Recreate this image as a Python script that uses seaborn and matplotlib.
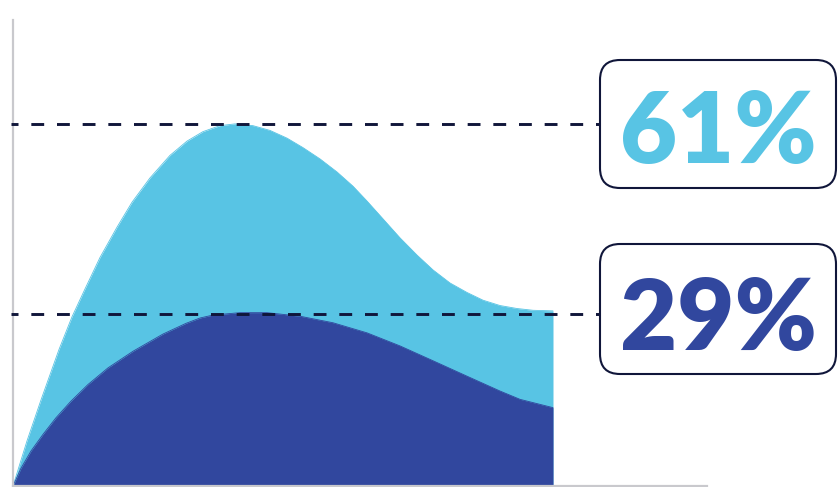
import matplotlib
matplotlib.use("Agg")
import matplotlib.pyplot as plt
import seaborn as sns
import pandas as pd
from matplotlib.patches import FancyBboxPatch
from matplotlib.transforms import IdentityTransform

# data (x = horizontal position, share in %)
light_x = [0, 14, 28, 46, 59, 72, 87, 104, 119, 137, 157, 174, 190, 207, 222, 240, 257,
           274, 290, 307, 324, 340, 354, 370, 387, 404, 420, 437, 454, 470, 487, 504, 520, 540]
light_y = [0, 7.6, 14.5, 23.0, 28.5, 33.2, 38.5, 43.6, 47.8, 51.9, 55.7, 58.1, 59.7, 60.7,
           61.0, 60.7, 59.9, 58.6, 57.0, 55.1, 52.9, 50.5, 48.0, 45.0, 41.8, 38.9, 36.4, 34.2,
           32.6, 31.3, 30.4, 29.9, 29.6, 29.5]
dark_x = [0, 8, 18, 30, 43, 58, 75, 95, 120, 150, 173, 187, 200, 227, 254, 287, 320, 354,
          387, 420, 454, 487, 507, 540]
dark_y = [0, 3.0, 5.9, 8.7, 11.5, 14.3, 17.1, 19.9, 22.7, 25.6, 27.4, 28.3, 28.8, 29.2,
          29.2, 28.6, 27.5, 25.8, 23.6, 21.1, 18.5, 16.0, 14.6, 13.2]
labels = ["61%", "29%"]
levels = [61, 29]

light_col = "#58C4E4"
dark_col = "#31479E"
navy = "#10163A"

sns.set_theme(style="white")
plt.rcParams["font.family"] = ["Lato", "DejaVu Sans"]

W, H = 838, 487
fig = plt.figure(figsize=(W / 100, H / 100), dpi=100)
ax = fig.add_axes([13 / W, 1 / H, 694 / W, 466 / H])

light = pd.DataFrame({"x": light_x, "y": light_y})
dark = pd.DataFrame({"x": dark_x, "y": dark_y})

ax.fill_between(light["x"], light["y"], 0, color=light_col, lw=0)
sns.lineplot(data=light, x="x", y="y", color=light_col, lw=0.6, ax=ax)
ax.fill_between(dark["x"], dark["y"], 0, color=dark_col, lw=0)
sns.lineplot(data=dark, x="x", y="y", color=dark_col, lw=0.6, ax=ax)

ax.set_xlim(0, 694)
ax.set_ylim(0, 78.5)

# dashed guide lines up to the label boxes
for lv in levels:
    ax.plot([-2, 587], [lv, lv], color=navy, lw=2.1, ls=(2, (4.4, 4.4)),
            clip_on=False, zorder=5)

sns.despine(ax=ax)
for s in ["left", "bottom"]:
    ax.spines[s].set_color("#C9C9CD")
    ax.spines[s].set_linewidth(1.6)
ax.set_xticks([])
ax.set_yticks([])
ax.set_xlabel("")
ax.set_ylabel("")

# label boxes (pixel coordinates)
boxes = [(600, 299, 236, 128), (600, 113, 236, 130)]
colors = [light_col, dark_col]
baselines = [163, 350]
for (bx, by, bw, bh), lab, c, base in zip(boxes, labels, colors, baselines):
    fig.patches.append(FancyBboxPatch((bx, by), bw, bh,
                                      boxstyle="round,pad=0,rounding_size=20",
                                      fc="white", ec=navy, lw=1.5,
                                      transform=IdentityTransform(), figure=fig))
    fig.text(718 / W, 1 - base / H, lab, ha="center", va="baseline",
             fontsize=71, fontweight="heavy", color=c)

fig.savefig("out.png", dpi=100)
